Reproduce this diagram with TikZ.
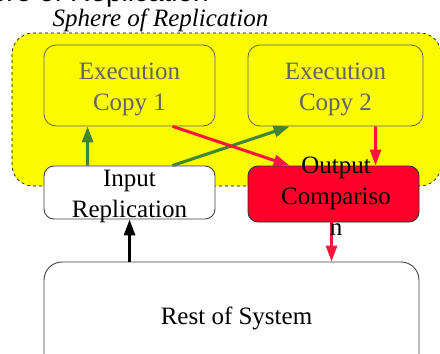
\documentclass[tikz,border=0pt]{standalone}
\usepackage{fontspec}
\setmainfont{Liberation Serif}
\newfontfamily\titlesans{Liberation Sans}
\usetikzlibrary{arrows.meta}
\definecolor{grn}{RGB}{62,134,50}
\definecolor{rdarrow}{RGB}{255,20,60}
\definecolor{rdfill}{RGB}{255,0,40}
\definecolor{gtext}{RGB}{100,100,100}
\definecolor{yel}{RGB}{250,250,0}
\tikzset{
  txt/.style={font=\fontsize{25}{31}\selectfont, inner sep=0pt, align=center, anchor=north},
  exbox/.style={draw=gtext, line width=0.8pt, rounded corners=12pt, inner sep=0pt},
  plainbox/.style={draw=black!75, line width=0.9pt, fill=white, rounded corners=10pt, inner sep=0pt},
  cmpbox/.style={draw=black!80, line width=0.9pt, fill=rdfill, rounded corners=10pt, inner sep=0pt},
  conn/.style={line width=3pt, -{Triangle[length=16pt,width=11pt]}},
  garrow/.style={conn, draw=grn},
  rarrow/.style={conn, draw=rdarrow},
  karrow/.style={conn, draw=black},
}
\begin{document}
\begin{tikzpicture}[x=1pt,y=-1pt]
\useasboundingbox (0,0) rectangle (440,354);
% clipped title
\node[font=\titlesans\fontsize{28}{30}\selectfont, anchor=base east, inner sep=0pt] (title) at (209,1.5) {Sphere of Replication};
% sphere
\node[font=\itshape\fontsize{25}{30}\selectfont, anchor=base, inner sep=0pt] (sphlabel) at (160.5,26) {Sphere of Replication};
\draw[dashed, fill=yel, line width=0.6pt, rounded corners=21pt] (12,33) rectangle (441,186);
% boxes
\node[exbox, minimum width=171pt, minimum height=81pt] (e1) at (129.5,85.5) {};
\node[exbox, minimum width=175pt, minimum height=81pt] (e2) at (335.5,85.5) {};
\node[plainbox, minimum width=171pt, minimum height=53pt] (ir) at (129.5,192.5) {};
\node[cmpbox, minimum width=171pt, minimum height=56pt] (oc) at (333.5,194) {};
\node[plainbox, rounded corners=18pt, minimum width=375pt, minimum height=110pt] (rs) at (231.5,317) {};
% arrows
\draw[garrow] ([xshift=44pt]ir.north west) -- ([xshift=44pt]e1.south west);
\draw[garrow] ([xshift=129pt]ir.north west) -- ([xshift=42pt]e2.south west);
\draw[rarrow] ([xshift=129pt]e1.south west) -- ([xshift=42pt]oc.north west);
\draw[rarrow] ([xshift=128pt]e2.south west) -- ([xshift=128pt]oc.north west);
\draw[rarrow] ([xshift=84pt]oc.south west) -- ([xshift=288pt]rs.north west);
\draw[karrow] ([xshift=86pt]rs.north west) -- ([xshift=86pt]ir.south west);
% texts
\node[txt, text=gtext] (e1t) at (129.5,63) {Execution\\Copy 1};
\node[txt, text=gtext] (e2t) at (335.5,63) {Execution\\Copy 2};
\node[txt] (irt) at (129.5,170) {Input\\Replication};
\node[txt] (oct) at (336,157) {Output\\Compariso\\n};
\node[font=\fontsize{25}{31}\selectfont, anchor=base, inner sep=0pt] (rst) at (236.5,324) {Rest of System};
\end{tikzpicture}
\end{document}
